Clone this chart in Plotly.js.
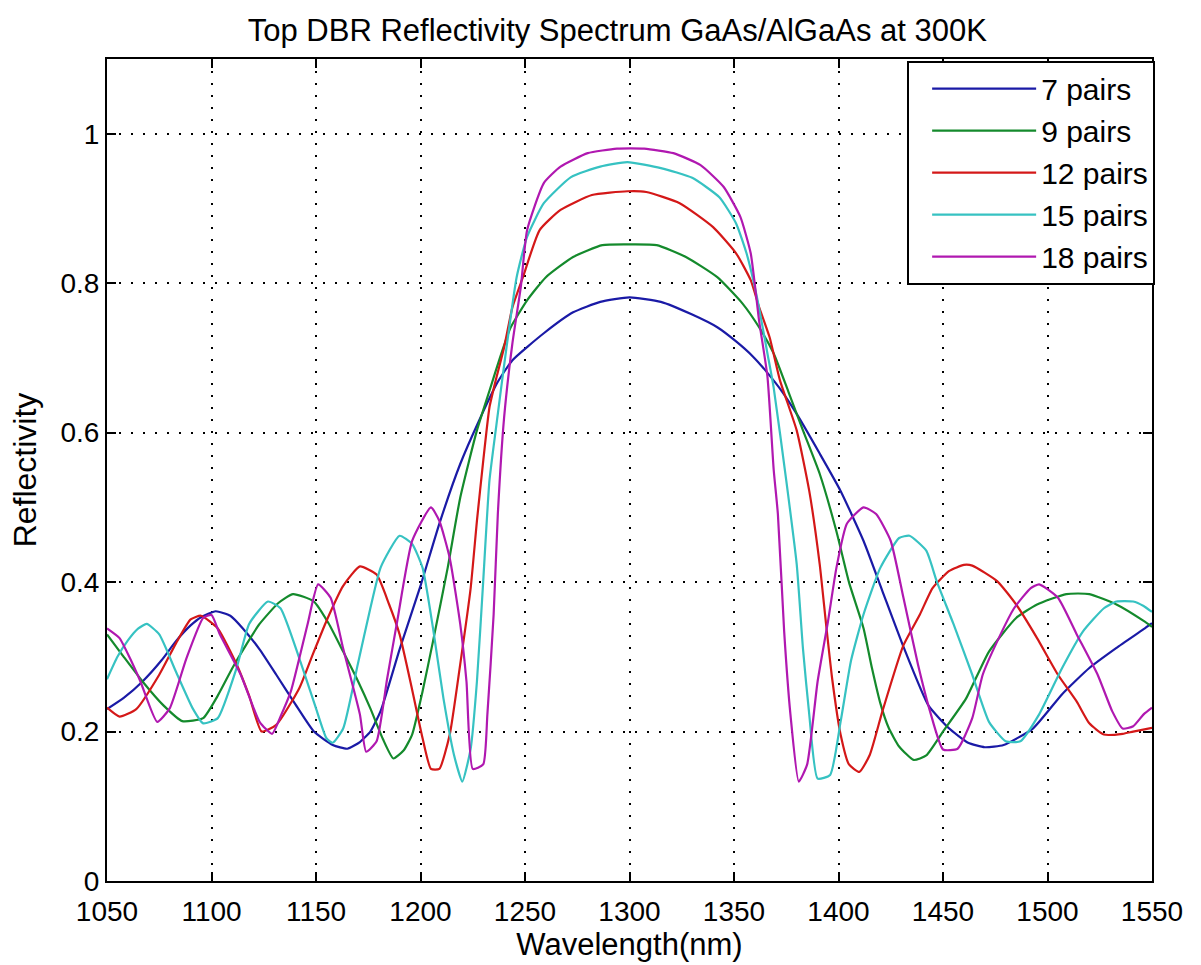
<!DOCTYPE html>
<html>
<head>
<meta charset="utf-8">
<script src="https://cdn.plot.ly/plotly-3.0.1.min.js"></script>
<style>html,body{margin:0;padding:0;background:#fff;}#chart{width:1201px;height:965px;}</style>
</head>
<body>
<div id="chart"></div>
<script>
const seriesNames = ["7 pairs", "9 pairs", "12 pairs", "15 pairs", "18 pairs"];

const x7 = [1050,1058,1067,1076,1083,1090,1095,1102,1109,1115,1123,1131,1140,1149,1158,1165,1171,1176,1181,1190,1200,1209,1219,1228,1237,1244,1259,1273,1286,1300,1315,1330,1342,1351,1359,1366,1373,1380,1391,1401,1412,1421,1431,1443,1453,1462,1470,1479,1493,1507,1520,1533,1546,1550];
const r7 = [0.23,0.245,0.267,0.295,0.321,0.342,0.353,0.361,0.355,0.338,0.31,0.276,0.237,0.2,0.182,0.177,0.186,0.2,0.228,0.31,0.395,0.478,0.558,0.616,0.668,0.697,0.733,0.761,0.775,0.781,0.775,0.758,0.741,0.722,0.702,0.68,0.655,0.625,0.572,0.522,0.455,0.388,0.314,0.235,0.204,0.185,0.179,0.182,0.204,0.25,0.285,0.312,0.337,0.345];

const x9 = [1050,1058,1067,1077,1086,1096,1103,1110,1117,1123,1132,1139,1149,1156,1163,1170,1176,1182,1187,1192,1196,1201,1206,1213,1219,1227,1233,1238,1243,1251,1260,1273,1287,1300,1313,1327,1342,1354,1362,1369,1376,1383,1391,1399,1405,1412,1416,1420,1424,1429,1436,1442,1450,1461,1472,1485,1495,1509,1520,1533,1546,1550];
const r9 = [0.33,0.3,0.267,0.235,0.214,0.218,0.248,0.285,0.318,0.344,0.372,0.384,0.374,0.345,0.307,0.268,0.231,0.19,0.164,0.175,0.196,0.254,0.321,0.419,0.513,0.603,0.656,0.7,0.74,0.777,0.808,0.835,0.851,0.852,0.851,0.835,0.808,0.773,0.741,0.706,0.655,0.603,0.545,0.468,0.4,0.338,0.285,0.238,0.205,0.18,0.162,0.168,0.2,0.244,0.307,0.352,0.37,0.384,0.384,0.37,0.348,0.34];

const x12 = [1050,1056,1064,1075,1083,1090,1095,1103,1112,1118,1124,1131,1142,1148,1155,1163,1171,1179,1185,1190,1196,1201,1205,1209,1214,1219,1224,1227,1230,1233,1236,1240,1244,1249,1257,1267,1282,1299,1308,1324,1340,1351,1358,1362,1367,1372,1380,1386,1391,1394,1397,1401,1405,1410,1415,1421,1431,1439,1445,1453,1460,1464,1476,1485,1495,1505,1514,1520,1527,1536,1541,1550];
const r12 = [0.232,0.22,0.23,0.276,0.318,0.35,0.355,0.338,0.29,0.248,0.2,0.209,0.258,0.3,0.348,0.395,0.421,0.41,0.37,0.33,0.256,0.191,0.15,0.15,0.196,0.29,0.392,0.482,0.562,0.634,0.67,0.714,0.768,0.808,0.871,0.898,0.918,0.923,0.922,0.907,0.875,0.84,0.804,0.768,0.728,0.67,0.603,0.522,0.424,0.345,0.27,0.196,0.156,0.146,0.169,0.227,0.315,0.357,0.392,0.415,0.423,0.422,0.401,0.37,0.325,0.276,0.24,0.211,0.196,0.197,0.2,0.205];

const x15 = [1050,1055,1060,1065,1069,1075,1083,1091,1096,1103,1112,1118,1127,1133,1142,1150,1155,1158,1163,1170,1176,1181,1190,1196,1201,1206,1211,1216,1220,1224,1227,1230,1233,1237,1240,1246,1251,1259,1272,1286,1299,1315,1330,1343,1351,1356,1361,1366,1369,1375,1380,1383,1386,1390,1396,1401,1406,1412,1420,1429,1434,1442,1447,1455,1464,1472,1480,1487,1496,1507,1517,1527,1533,1541,1546,1550];
const r15 = [0.27,0.3,0.322,0.338,0.344,0.33,0.28,0.231,0.211,0.218,0.285,0.344,0.374,0.365,0.298,0.231,0.191,0.185,0.204,0.29,0.365,0.42,0.462,0.451,0.419,0.338,0.244,0.169,0.133,0.177,0.267,0.401,0.536,0.625,0.69,0.808,0.862,0.907,0.942,0.956,0.962,0.954,0.941,0.915,0.88,0.84,0.781,0.706,0.66,0.536,0.424,0.311,0.223,0.137,0.142,0.213,0.295,0.357,0.419,0.459,0.462,0.442,0.401,0.344,0.276,0.213,0.187,0.187,0.223,0.285,0.334,0.365,0.374,0.374,0.368,0.36];

const x18 = [1050,1056,1061,1066,1074,1080,1088,1096,1100,1104,1114,1123,1129,1133,1138,1146,1151,1157,1163,1171,1174,1179,1184,1189,1196,1205,1209,1214,1219,1222,1225,1230,1232,1235,1237,1240,1244,1248,1251,1259,1267,1280,1294,1307,1321,1334,1345,1353,1358,1362,1366,1369,1371,1374,1377,1381,1385,1390,1395,1399,1404,1412,1418,1425,1431,1438,1444,1450,1457,1464,1469,1476,1484,1492,1496,1505,1514,1524,1531,1536,1541,1546,1550];
const r18 = [0.338,0.325,0.298,0.267,0.213,0.231,0.298,0.352,0.356,0.33,0.276,0.213,0.197,0.22,0.254,0.344,0.397,0.379,0.311,0.223,0.173,0.187,0.27,0.35,0.455,0.5,0.482,0.432,0.344,0.267,0.15,0.156,0.223,0.357,0.491,0.62,0.72,0.795,0.871,0.934,0.956,0.974,0.98,0.98,0.974,0.958,0.929,0.889,0.84,0.75,0.675,0.55,0.491,0.334,0.223,0.133,0.156,0.267,0.348,0.419,0.478,0.5,0.491,0.455,0.38,0.29,0.225,0.176,0.177,0.218,0.276,0.321,0.365,0.392,0.397,0.379,0.33,0.276,0.227,0.204,0.207,0.223,0.232];

const xTicks = [1050,1100,1150,1200,1250,1300,1350,1400,1450,1500,1550];
const yTicks = [0,0.2,0.4,0.6,0.8,1];
const yTickText = ["0","0.2","0.4","0.6","0.8","1"];

const xs = [x7, x9, x12, x15, x18];
const ys = [r7, r9, r12, r15, r18];
const colors = ["#1a1aa6", "#148a2c", "#d41818", "#36c2c2", "#b018b0"];

const FONT = "'Liberation Sans', Arial, Helvetica, sans-serif";

const traces = seriesNames.map((n, i) => ({
  type: "scatter",
  mode: "lines",
  name: n,
  x: xs[i],
  y: ys[i],
  line: {color: colors[i], width: 2.2, shape: "spline", smoothing: 0.5}
}));

const axisCommon = {
  showline: true, linecolor: "#000", linewidth: 2,
  mirror: "ticks", ticks: "inside", ticklen: 9, tickwidth: 2, tickcolor: "#000",
  showgrid: true, gridcolor: "#000", gridwidth: 2, griddash: "2px,10px",
  zeroline: false,
  tickfont: {family: FONT, size: 28, color: "#000"}
};

const layout = {
  width: 1201, height: 965,
  paper_bgcolor: "#fff", plot_bgcolor: "#fff",
  margin: {l: 107, r: 49, t: 59, b: 84, pad: 0},
  font: {family: FONT, color: "#000"},
  title: {
    text: "Top DBR Reflectivity Spectrum GaAs/AlGaAs at 300K",
    font: {family: FONT, size: 31, color: "#000"},
    xref: "container", x: 0.514, xanchor: "center",
    yref: "container", y: 0.969, yanchor: "middle"
  },
  xaxis: Object.assign({}, axisCommon, {
    range: [1050, 1550], tickmode: "array", tickvals: xTicks,
    ticklabelstandoff: 4,
    title: {text: "Wavelength(nm)", font: {family: FONT, size: 31, color: "#000"}, standoff: 4}
  }),
  yaxis: Object.assign({}, axisCommon, {
    range: [0, 1.1], tickmode: "array", tickvals: yTicks, ticktext: yTickText,
    title: {text: "Reflectivity", font: {family: FONT, size: 32, color: "#000"}, standoff: 14}
  }),
  showlegend: true,
  legend: {
    x: 1.003, xanchor: "right", y: 0.998, yanchor: "top",
    bgcolor: "#fff", bordercolor: "#000", borderwidth: 2,
    font: {family: FONT, size: 30, color: "#000"},
    itemwidth: 104, tracegroupgap: 0, indentation: 18
  }
};

Plotly.newPlot("chart", traces, layout, {displayModeBar: false, staticPlot: true});
</script>
</body>
</html>
